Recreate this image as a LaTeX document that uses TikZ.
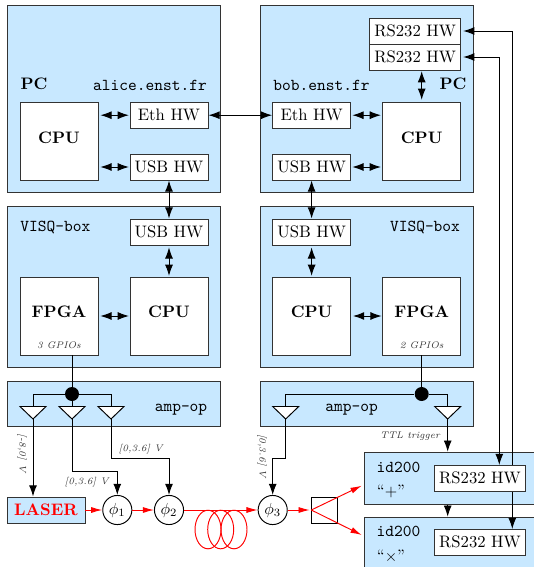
\documentclass[tikz,border=0pt]{standalone}
\usetikzlibrary{arrows.meta}
\definecolor{boxblue}{RGB}{200,232,255}
\AtBeginDocument{\fontsize{10.4}{12}\selectfont}
\tikzset{
  >={Latex[length=7pt,width=5pt]},
  wire/.style={line width=0.6pt},
  fiber/.style={line width=0.6pt, draw=red, >={Latex[length=7pt,width=3.8pt]}},
  outerbox/.style={draw=black!80, line width=0.6pt, fill=boxblue, minimum width=133.5pt, inner sep=0pt},
  hwbox/.style={draw=black!80, line width=0.6pt, fill=white, minimum width=48.75pt, minimum height=16.25pt, inner sep=0pt},
  chipbox/.style={draw=black!80, line width=0.6pt, fill=white, minimum size=48.75pt, inner sep=0pt, font=\bfseries},
  rsbox/.style={hwbox, minimum width=57pt},
  phase/.style={circle, draw=black, line width=0.6pt, fill=white, minimum size=18.2pt, inner sep=0pt},
  dot/.style={circle, fill=black, minimum size=8.75pt, inner sep=0pt},
  small/.style={font=\fontsize{6}{7}\selectfont\itshape, text=black!80, inner sep=0pt},
  tag/.style={font=\ttfamily, inner sep=0pt},
  amptri/.style={draw=black, line width=0.6pt, fill=white}
}
\newcommand{\up}[1]{\raisebox{5pt}{#1}}
\begin{document}
\begin{tikzpicture}[x=0.625pt, y=-0.625pt]
  \clip (0,0) rectangle (534,567);

  % Boites exterieures
  \node[outerbox, minimum height=117pt] (pcA) at (114,99) {};
  \node[outerbox, minimum height=117pt] (pcB) at (367,99) {};
  \node[outerbox, minimum height=100.6pt] (visqA) at (114,286.5) {};
  \node[outerbox, minimum height=100.6pt] (visqB) at (367,286.5) {};
  \node[outerbox, minimum height=28.1pt] (ampA) at (114,403.5) {};
  \node[outerbox, minimum height=28.1pt] (ampB) at (367,403.5) {};
  \node[outerbox, minimum width=110pt, minimum height=32.7pt, anchor=north west] (idA) at (363.7,451.7) {};
  \node[outerbox, minimum width=110pt, minimum height=40pt, anchor=north west] (idB) at (363.7,516.7) {};

  % PC alice
  \node[chipbox] (cpuA) at (59,141.2) {\up{CPU}};
  \node[hwbox] (ethA) at (169,115.2) {Eth HW};
  \node[hwbox] (usbA) at (169,167) {USB HW};
  \node[font=\bfseries, inner sep=0pt] (namepcA) at (34,84) {PC};
  \node[tag] (hostA) at (150,85) {alice.enst.fr};

  % PC bob
  \node[chipbox] (cpuB) at (421.7,141.2) {\up{CPU}};
  \node[hwbox] (ethB) at (311.6,115.2) {Eth HW};
  \node[hwbox] (usbB) at (311.6,167) {USB HW};
  \node[rsbox] (rsA) at (415.2,31) {RS232 HW};
  \node[rsbox] (rsB) at (415.2,57) {RS232 HW};
  \node[font=\bfseries, inner sep=0pt] (namepcB) at (453,84) {PC};
  \node[tag] (hostB) at (321.5,85) {bob.enst.fr};

  % VISQ-box
  \node[chipbox] (fpgaA) at (59,316) {\up{FPGA}};
  \node[chipbox] (cpuC) at (169,316) {\up{CPU}};
  \node[hwbox] (usbC) at (169,232) {USB HW};
  \node[tag] (visqnameA) at (55.4,227.5) {VISQ-box};
  \node[small] (gpioA) at (59,345) {3 GPIOs};
  \node[chipbox] (cpuD) at (311.6,316) {\up{CPU}};
  \node[chipbox] (fpgaB) at (421.7,316) {\up{FPGA}};
  \node[hwbox] (usbD) at (311.6,232) {USB HW};
  \node[tag] (visqnameB) at (425,227.5) {VISQ-box};
  \node[small] (gpioB) at (421.7,345) {2 GPIOs};

  % Amp-op
  \node[tag] (ampnameA) at (181,410) {amp-op};
  \node[tag] (ampnameB) at (351.7,410) {amp-op};
  \node[dot] (dotA) at (72,394) {};
  \node[dot] (dotB) at (421.7,394) {};
  \foreach \n/\x in {1/33,2/72,3/111,4/285.7,5/447.7} {
    \coordinate (amp\n) at (\x,406.5);
    \coordinate (tip\n) at (\x,419);
  }
  \draw[wire] (dotA |- fpgaA.south) -- (dotA);
  \draw[wire] (fpgaB.south) -- (dotB);
  \draw[wire] (amp1) |- (dotA) -| (amp3);
  \draw[wire] (dotA) -- (amp2);
  \draw[wire] (amp4) |- (dotB) -| (amp5);
  \foreach \n in {1,...,5}
    \draw[amptri] (amp\n) ++(-13,0) -- ++(26,0) -- ++(-13,12.5) -- cycle;

  % Chaine optique
  \node[hwbox, fill=boxblue, text=red, font=\bfseries] (laser) at (46,510) {LASER};
  \node[phase] (phiA) at (117.3,510) {$\phi_1$};
  \node[phase] (phiB) at (169,510) {$\phi_2$};
  \node[phase] (phiC) at (272.7,510) {$\phi_3$};
  \node[draw=black, line width=0.6pt, minimum size=16.25pt, inner sep=0pt] (split) at (324.3,510) {};
  \coordinate (splitin) at (311.3,510);
  \coordinate (plus) at (361.7,485.7);
  \coordinate (cross) at (361.7,535);

  % Tensions
  \coordinate (benda) at (117.3,471.7);
  \coordinate (bendb) at (169,458.3);
  \coordinate (bendc) at (272.7,458.3);
  \draw[wire, ->] (tip1) -- (laser.north -| tip1);
  \draw[wire, ->] (tip2) |- (benda) -- (phiA.north);
  \draw[wire, ->] (tip3) |- (bendb) -- (phiB.north);
  \draw[wire, ->] (tip4) |- (bendc) -- (phiC.north);
  \node[small, rotate=-90] (volta) at (22,453) {[-8,0] V};
  \node[small] (voltb) at (86.7,481.7) {[0,3.6] V};
  \node[small] (voltc) at (140.7,449) {[0,3.6] V};
  \node[small, rotate=-90] (voltd) at (262,456) {[0,3.6] V};
  \node[small] (ttl) at (410,435.7) {TTL trigger};

  % Fibre
  \draw[fiber, ->] (laser) -- (phiA);
  \draw[fiber, ->] (phiA) -- (phiB);
  \draw[fiber, ->] (phiB) -- (phiC);
  \draw[fiber, ->, shorten >=1pt] (phiC) -- (splitin);
  \foreach \x in {208,220.7,234}
    \draw[fiber] (\x,529.5) ellipse [x radius=13, y radius=19.3];
  \draw[fiber, ->] (splitin) -- (plus);
  \draw[fiber, ->] (splitin) -- (cross);

  % id200
  \coordinate (inC) at (499.3,465);
  \coordinate (inD) at (512.3,529);
  \draw[wire, ->] (tip5) -- (idA.north -| tip5);
  \draw[wire, ->] (idA.south -| tip5) -- (idB.north -| tip5);
  \draw[wire, <->, shorten <=1.2pt] (rsA.east) -| (inD);
  \draw[wire, <->, shorten <=1.2pt] (rsB.east) -| (inC);
  \node[rsbox] (rsC) at (480,478) {RS232 HW};
  \node[rsbox] (rsD) at (480,542) {RS232 HW};
  \node[tag] (idnameA) at (398.5,467) {id200};
  \node[tag] (idnameB) at (398.5,531) {id200};
  \node[inner sep=0pt] (plusname) at (391,491.7) {``$+$''};
  \node[inner sep=0pt] (crossname) at (391,556.7) {``$\times$''};

  % Liaisons
  \draw[wire, <->] (ethA) -- (ethB);
  \draw[wire, <->, shorten <=1.2pt, shorten >=0.4pt] (cpuA.east |- ethA) -- (ethA);
  \draw[wire, <->, shorten <=1.2pt, shorten >=0.4pt] (cpuA.east |- usbA) -- (usbA);
  \draw[wire, <->, shorten <=0.8pt, shorten >=0.8pt] (ethB) -- (cpuB.west |- ethB);
  \draw[wire, <->, shorten <=0.8pt, shorten >=0.8pt] (usbB) -- (cpuB.west |- usbB);
  \draw[wire, <->, shorten <=1.2pt, shorten >=0.4pt] (cpuB.north) -- (rsB.south -| cpuB);
  \draw[wire, <->] (usbA) -- (usbC);
  \draw[wire, <->] (usbB) -- (usbD);
  \draw[wire, <->, shorten <=1.2pt, shorten >=0.4pt] (usbC) -- (cpuC);
  \draw[wire, <->, shorten <=1.2pt, shorten >=0.4pt] (usbD) -- (cpuD);
  \draw[wire, <->, shorten <=1.2pt, shorten >=0.4pt] (fpgaA) -- (cpuC);
  \draw[wire, <->, shorten <=1.2pt, shorten >=0.4pt] (cpuD) -- (fpgaB);
\end{tikzpicture}
\end{document}
